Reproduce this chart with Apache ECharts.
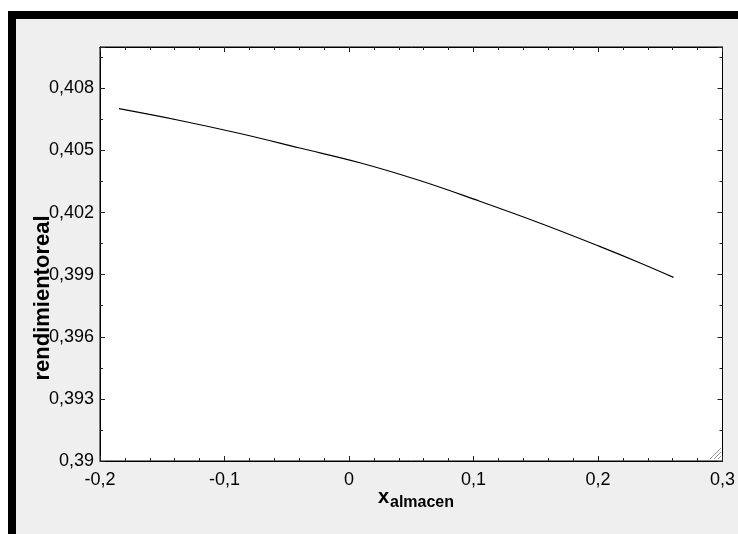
<!DOCTYPE html>
<html>
<head>
<meta charset="utf-8">
<script src="https://cdn.jsdelivr.net/npm/echarts@6/dist/echarts.min.js"></script>
<style>
  html, body { margin: 0; padding: 0; background: #fff; overflow: hidden; }
  #frame {
    position: absolute; left: 8px; top: 11px;
    width: 800px; height: 520px;
    border: 8px solid #000; background: #efefef;
  }
  #main { position: absolute; left: 0; top: 0; width: 738px; height: 534px; }
</style>
</head>
<body>
<div id="frame"></div>
<div id="main"></div>
<script>
// curve
var xData = [-0.1848, -0.1358, -0.0876, -0.0395, 0.0087, 0.0568, 0.105, 0.1531, 0.2013, 0.2334, 0.2607];
var yData = [0.40702, 0.40645, 0.40582, 0.40512, 0.40441, 0.40355, 0.40255, 0.40150, 0.40037, 0.39958, 0.39887];

// tick labels
var xTicks = [-0.2, -0.1, 0, 0.1, 0.2, 0.3];
var xTickLabels = ['-0,2', '-0,1', '0', '0,1', '0,2', '0,3'];
var yTicks = [0.39, 0.393, 0.396, 0.399, 0.402, 0.405, 0.408];
var yTickLabels = ['0,39', '0,393', '0,396', '0,399', '0,402', '0,405', '0,408'];

function lookup(ticks, labels) {
  return function (v) {
    for (var i = 0; i < ticks.length; i++) {
      if (Math.abs(ticks[i] - v) < 1e-7) return labels[i];
    }
    return '';
  };
}

var font = 'Liberation Sans, Arial, sans-serif';
var points = xData.map(function (x, i) { return [x, yData[i]]; });

var myChart = echarts.init(document.getElementById('main'));

function xAx(pos, labels) {
  return {
    type: 'value', position: pos, min: -0.2, max: 0.3, interval: 0.1,
    axisLine: { show: true, onZero: false, lineStyle: { color: '#000', width: 1 } },
    axisTick: { show: true, inside: true, length: 5, lineStyle: { color: '#222' } },
    minorTick: { show: true, splitNumber: 5, length: 3, lineStyle: { color: '#222' } },
    axisLabel: {
      show: labels, margin: 10, fontSize: 18, color: '#000', fontFamily: font,
      showMinLabel: true, showMaxLabel: true,
      formatter: lookup(xTicks, xTickLabels)
    },
    splitLine: { show: false }
  };
}

function yAx(pos, interval, tickLen, labels, line) {
  return {
    type: 'value', position: pos, min: 0.39, max: 0.41, interval: interval,
    axisLine: { show: line, onZero: false, lineStyle: { color: '#000', width: 1 } },
    axisTick: { show: true, inside: true, length: tickLen, lineStyle: { color: '#222' } },
    axisLabel: {
      show: labels, margin: 6, fontSize: 18, color: '#000', fontFamily: font,
      formatter: lookup(yTicks, yTickLabels)
    },
    splitLine: { show: false }
  };
}

myChart.setOption({
  backgroundColor: 'transparent',
  animation: false,
  grid: {
    left: 100, top: 47, right: 15, bottom: 73,
    show: true, backgroundColor: '#fff', borderColor: '#000', borderWidth: 1
  },
  xAxis: [xAx('bottom', true), xAx('top', false)],
  yAxis: [
    yAx('left', 0.003, 5, true, true),
    yAx('left', 0.0015, 3, false, false),
    yAx('right', 0.003, 5, false, true),
    yAx('right', 0.0015, 3, false, false)
  ],
  series: [{
    type: 'line',
    xAxisIndex: 0,
    yAxisIndex: 0,
    data: points,
    showSymbol: false,
    smooth: 0.4,
    lineStyle: { color: '#000', width: 1.2 }
  }],
  graphic: [
    {
      type: 'text', x: 43, y: 298, rotation: Math.PI / 2,
      style: {
        text: 'rendimientoreal', font: 'bold 22px ' + font, fill: '#000',
        align: 'center', verticalAlign: 'middle'
      }
    },
    {
      type: 'text', x: 378, y: 497,
      style: { text: 'x', font: 'bold 20px ' + font, fill: '#000', align: 'left', verticalAlign: 'middle' }
    },
    {
      type: 'text', x: 390, y: 503,
      style: { text: 'almacen', font: 'bold 16px ' + font, fill: '#000', align: 'left', verticalAlign: 'middle' }
    },
    // resize grip in the plot corner
    { type: 'line', shape: { x1: 710, y1: 459, x2: 721, y2: 448 }, style: { stroke: '#999', lineWidth: 1 } },
    { type: 'line', shape: { x1: 714, y1: 459, x2: 721, y2: 452 }, style: { stroke: '#999', lineWidth: 1 } },
    { type: 'line', shape: { x1: 718, y1: 459, x2: 721, y2: 456 }, style: { stroke: '#999', lineWidth: 1 } }
  ]
});
</script>
</body>
</html>
